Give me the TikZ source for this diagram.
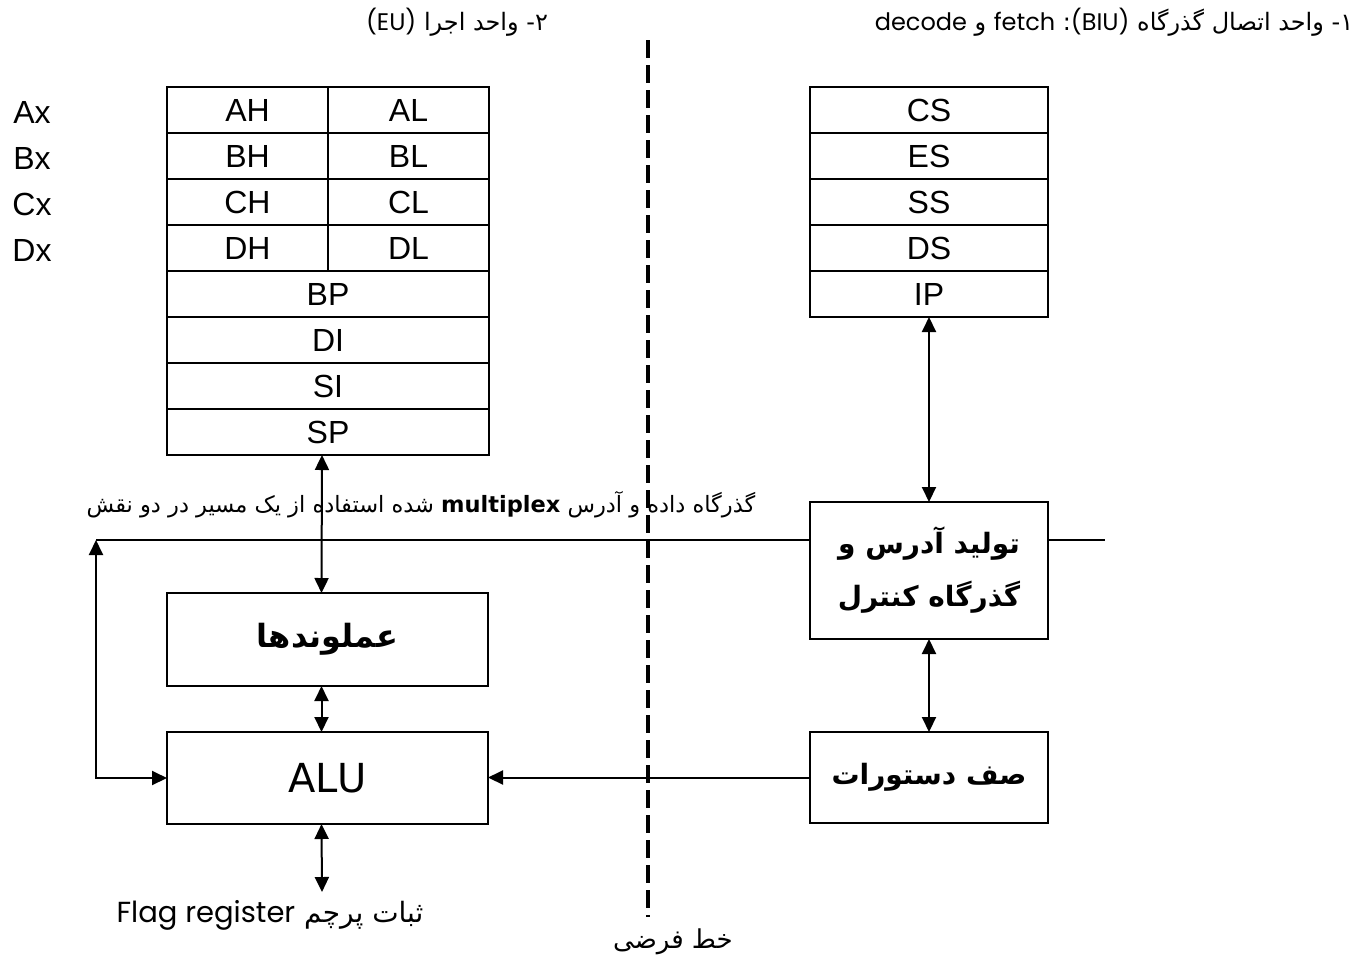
\documentclass[tikz,border=0pt]{standalone}
\usepackage{fontspec}
\setmainfont{Liberation Sans}
\newfontfamily\farsi[Script=Arabic]{DejaVu Sans}
\newfontfamily\geo{Poppins}
\usetikzlibrary{arrows.meta,positioning}
\TeXXeTstate=1

\begin{document}
\begin{tikzpicture}[x=1pt,y=-1pt,line width=2pt,
    >={Triangle[length=15pt,width=14pt]},
    reg/.style={draw,minimum width=322pt,minimum height=46pt,inner sep=0pt,outer sep=0pt,font=\fontsize{32}{34}\selectfont},
    half/.style={reg,minimum width=161pt},
    seg/.style={reg,minimum width=238pt},
    unit/.style={draw,inner sep=0pt,outer sep=0pt,align=center,font=\farsi\bfseries\fontsize{28}{53}\selectfont},
    pair/.style={inner sep=0pt,font=\fontsize{32}{34}\selectfont},
    note/.style={inner sep=0pt,font=\farsi\fontsize{24}{26}\selectfont}]

    % Fix the page to the size of the reference
    \useasboundingbox (0,0) rectangle (1368,962);

    % Headings of the two units
    \node[note] (biu) at (1114,22) {\beginR ۱- واحد اتصال گذرگاه \beginL{\geo(BIU)}\endL:  \beginL{\geo fetch}\endL{} و \beginL{\geo decode}\endL\endR};
    \node[note] (eu) at (457,22) {\beginR ۲- واحد اجرا \beginL{\geo(EU)}\endL\endR};

    % General registers, split in high and low halves
    \node[half] (ah) at (247.5,110) {AH};
    \node[half, right=0pt of ah] (al) {AL};
    \node[half, below=0pt of ah] (bh) {BH};
    \node[half, right=0pt of bh] (bl) {BL};
    \node[half, below=0pt of bh] (ch) {CH};
    \node[half, right=0pt of ch] (cl) {CL};
    \node[half, below=0pt of ch] (dh) {DH};
    \node[half, right=0pt of dh] (dl) {DL};

    % Pointer and index registers
    \node[reg, below=0pt of dh.south west, anchor=north west] (bp) {BP};
    \node[reg, below=0pt of bp] (di) {DI};
    \node[reg, below=0pt of di] (si) {SI};
    \node[reg, below=0pt of si] (sp) {SP};

    % Names of the 16 bit pairs
    \node[pair] (ax) at (32,112) {Ax};
    \node[pair] (bx) at (32,158) {Bx};
    \node[pair] (cx) at (32,204) {Cx};
    \node[pair] (dx) at (32,250) {Dx};

    % Segment registers and instruction pointer
    \node[seg] (cs) at (929,110) {CS};
    \node[seg, below=0pt of cs] (es) {ES};
    \node[seg, below=0pt of es] (ss) {SS};
    \node[seg, below=0pt of ss] (ds) {DS};
    \node[seg, below=0pt of ds] (ip) {IP};

    % Functional blocks
    \node[unit, minimum width=238pt, minimum height=137pt] (addr) at (929,570.5)
        {\beginR تولید آدرس و\endR\\ \beginR گذرگاه کنترل\endR};
    \node[unit, minimum width=238pt, minimum height=91pt] (queue) at (929,777.5)
        {\beginR صف دستورات\endR};
    \node[unit, minimum width=321pt, minimum height=93pt, font=\farsi\bfseries\fontsize{32}{36}\selectfont] (opnd) at (327.5,639.5)
        {\beginR عملوندها\endR};
    \node[unit, minimum width=321pt, minimum height=92pt, font=\farsi\fontsize{40}{44}\selectfont] (alu) at (327.5,778) {ALU};

    % Free ends of the bus and of the flag arrow
    \coordinate (fb) at (96,540);
    \coordinate (busend) at (1105,540);
    \coordinate (flagtip) at (322,892);

    % Multiplexed address and data bus
    \draw (fb) -- (fb -| addr.west);
    \draw (fb -| addr.east) -- (busend);
    \draw[<->] (fb) |- (alu.west);
    \node[note, font=\farsi\fontsize{22.5}{24}\selectfont] (mux) at (421,505)
        {\beginR گذرگاه داده و آدرس \beginL{\bfseries multiplex}\endL{} شده استفاده از یک مسیر در دو نقش\endR};

    % Links between the blocks
    \draw[<->] ([xshift=-6pt]sp.south) -- ([xshift=-6pt]opnd.north);
    \draw[<->] ([xshift=-6pt]opnd.south) -- ([xshift=-6pt]alu.north);
    \draw[<->] ([xshift=-6pt]alu.south) -- (flagtip);
    \draw[<->] (ip.south) -- (addr.north);
    \draw[<->] (addr.south) -- (queue.north);
    \draw[->] (queue.west) -- (queue.west -| alu.east);

    \node[note, font=\farsi\fontsize{28}{30}\selectfont] (flag) at (270,915)
        {\beginR ثبات پرچم \beginL{\geo\fontsize{29}{31}\selectfont Flag register}\endL\endR};

    % Imaginary line between the two units
    \coordinate (dtop) at (648,40);
    \coordinate (dbot) at (648,917);
    \draw[line width=4pt, dash pattern=on 18pt off 7pt] (dtop) -- (dbot);
    \node[note, font=\farsi\fontsize{26}{28}\selectfont] (imag) at (673,942) {\beginR خط فرضی\endR};

\end{tikzpicture}
\end{document}
